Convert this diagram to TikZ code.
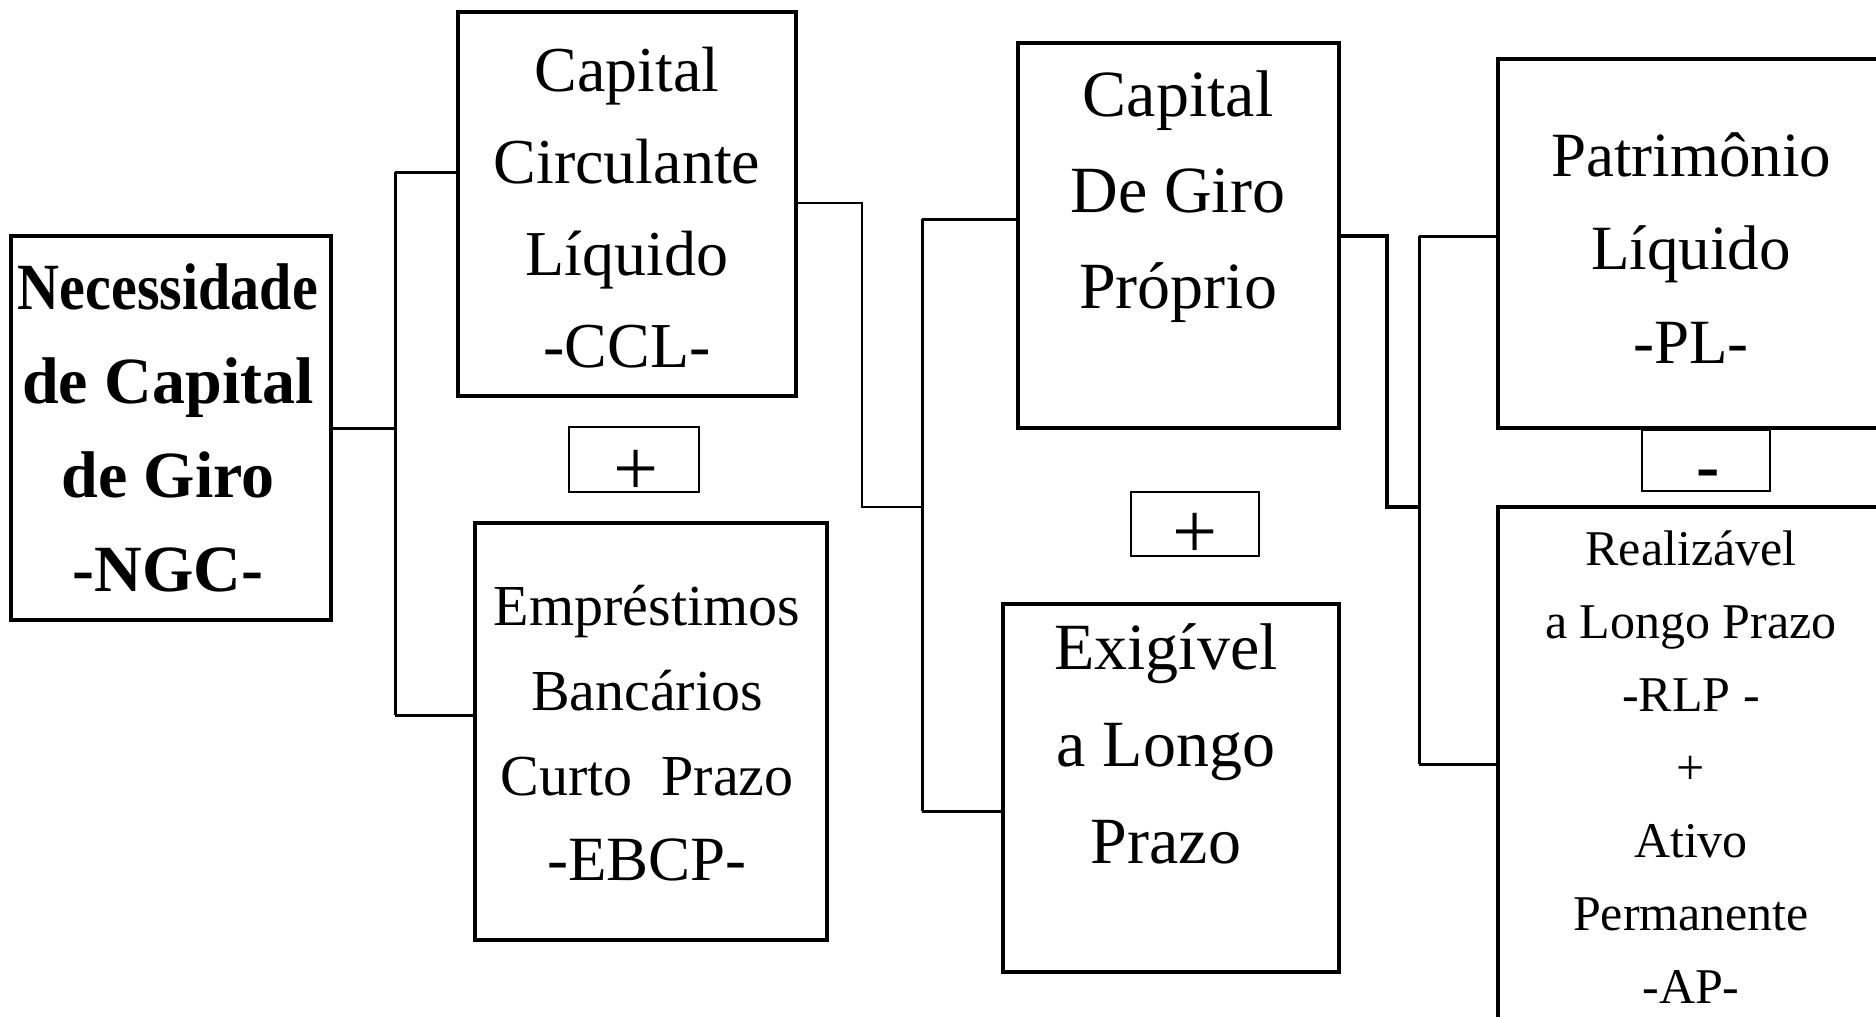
\documentclass[tikz,border=0pt]{standalone}
\usepackage{fontspec}
\setmainfont{Liberation Serif}
\usepackage{graphicx}
\begin{document}
\begin{tikzpicture}[x=0.5pt,y=-0.5pt,
    caixa/.style={draw,line width=1.8pt,inner sep=0pt},
    sinal/.style={draw,line width=1pt,inner sep=0pt},
    texto/.style={align=center,inner sep=0pt},
    liga/.style={line width=1.5pt},
    ligafina/.style={line width=0.9pt},
    ligagrossa/.style={line width=2.3pt}]
        \useasboundingbox (0,0) rectangle (1876,1017);
        \clip (0,0) rectangle (1876,1017);
        \node[caixa,minimum width=160pt,minimum height=192pt] (ngc) at (171,428) {};
        \node[caixa,minimum width=169pt,minimum height=192pt] (ccl) at (627,204) {};
        \node[caixa,minimum width=176pt,minimum height=208.5pt] (ebcp) at (651,731.5) {};
        \node[sinal,minimum width=65pt,minimum height=32.5pt] (somaA) at (634,459.5) {};
        \node[caixa,minimum width=160.5pt,minimum height=192.5pt] (cdgp) at (1178.5,235.5) {};
        \node[sinal,minimum width=64pt,minimum height=32pt] (somaB) at (1195,524) {};
        \node[caixa,minimum width=168pt,minimum height=184pt] (exlp) at (1171,788) {};
        \node[caixa,minimum width=193pt,minimum height=184.5pt] (pl) at (1691,243.5) {};
        \node[sinal,minimum width=64pt,minimum height=30.5pt] (subtr) at (1706,460.5) {};
        \node[caixa,minimum width=193pt,minimum height=276.5pt] (rlp) at (1691,783.5) {};
        \node[texto,font=\bfseries\fontsize{33}{47}\selectfont] (ngctxt) at (168,428) {\scalebox{0.88}[1]{Necessidade}\\de Capital\\de Giro\\-NGC-};
        \node[texto,font=\fontsize{32}{46}\selectfont] (ccltxt) at (627,208) {Capital\\Circulante\\Líquido\\-CCL-};
        \node[texto,font=\fontsize{29}{42.5}\selectfont] (ebcptxt) at (647,733) {Empréstimos\\Bancários\\Curto\ \ Prazo\\{\fontsize{31.5}{42.5}\selectfont -EBCP-}};
        \node[texto,font=\fontsize{33}{48}\selectfont] (cdgptxt) at (1178,197) {Capital\\De Giro\\Próprio};
        \node[texto,font=\fontsize{33}{48.5}\selectfont] (exlptxt) at (1166,744) {Exigível\\a Longo\\Prazo};
        \node[texto,font=\fontsize{31.5}{46.75}\selectfont] (pltxt) at (1691,248) {Patrimônio\\Líquido\\-PL-};
        \node[texto,font=\fontsize{25}{36.5}\selectfont] (rlptxt) at (1691,767) {Realizável\\a Longo Prazo\\-RLP -\\+\\Ativo\\Permanente\\-AP-};
        \node[texto,font=\fontsize{40}{40}\selectfont] (maisA) at (636,473) {+};
        \node[texto,font=\fontsize{40}{40}\selectfont] (maisB) at (1195,536) {+};
        \node[texto,font=\bfseries\fontsize{35}{35}\selectfont] (menos) at (1708,480) {-};
        \coordinate (a1) at (395,172);
        \coordinate (a2) at (395,715);
        \draw[liga] (ngc.east) -- (ngc.east -| a1);
        \draw[liga] (a1) -- (a2);
        \draw[liga] (a1) -- (a1 -| ccl.west);
        \draw[liga] (a2) -- (a2 -| ebcp.west);
        \coordinate (c1) at (922,219);
        \coordinate (c2) at (922,811);
        \coordinate (b1) at (862,203);
        \coordinate (b2) at (862,507);
        \draw[ligafina] (ccl.east |- b1) -- (b1) -- (b2) -- (b2 -| c1);
        \draw[liga] (c1) -- (c2);
        \draw[liga] (c1) -- (c1 -| cdgp.west);
        \draw[liga] (c2) -- (c2 -| exlp.west);
        \coordinate (e1) at (1419,236);
        \coordinate (e2) at (1419,764);
        \coordinate (d1) at (1387,236);
        \coordinate (d2) at (1387,507);
        \draw[ligagrossa] (cdgp.east |- d1) -- (d1) -- (d2) -- (d2 -| e1);
        \draw[liga] (e1) -- (e2);
        \draw[liga] (e1) -- (e1 -| pl.west);
        \draw[liga] (e2) -- (e2 -| rlp.west);
\end{tikzpicture}
\end{document}
